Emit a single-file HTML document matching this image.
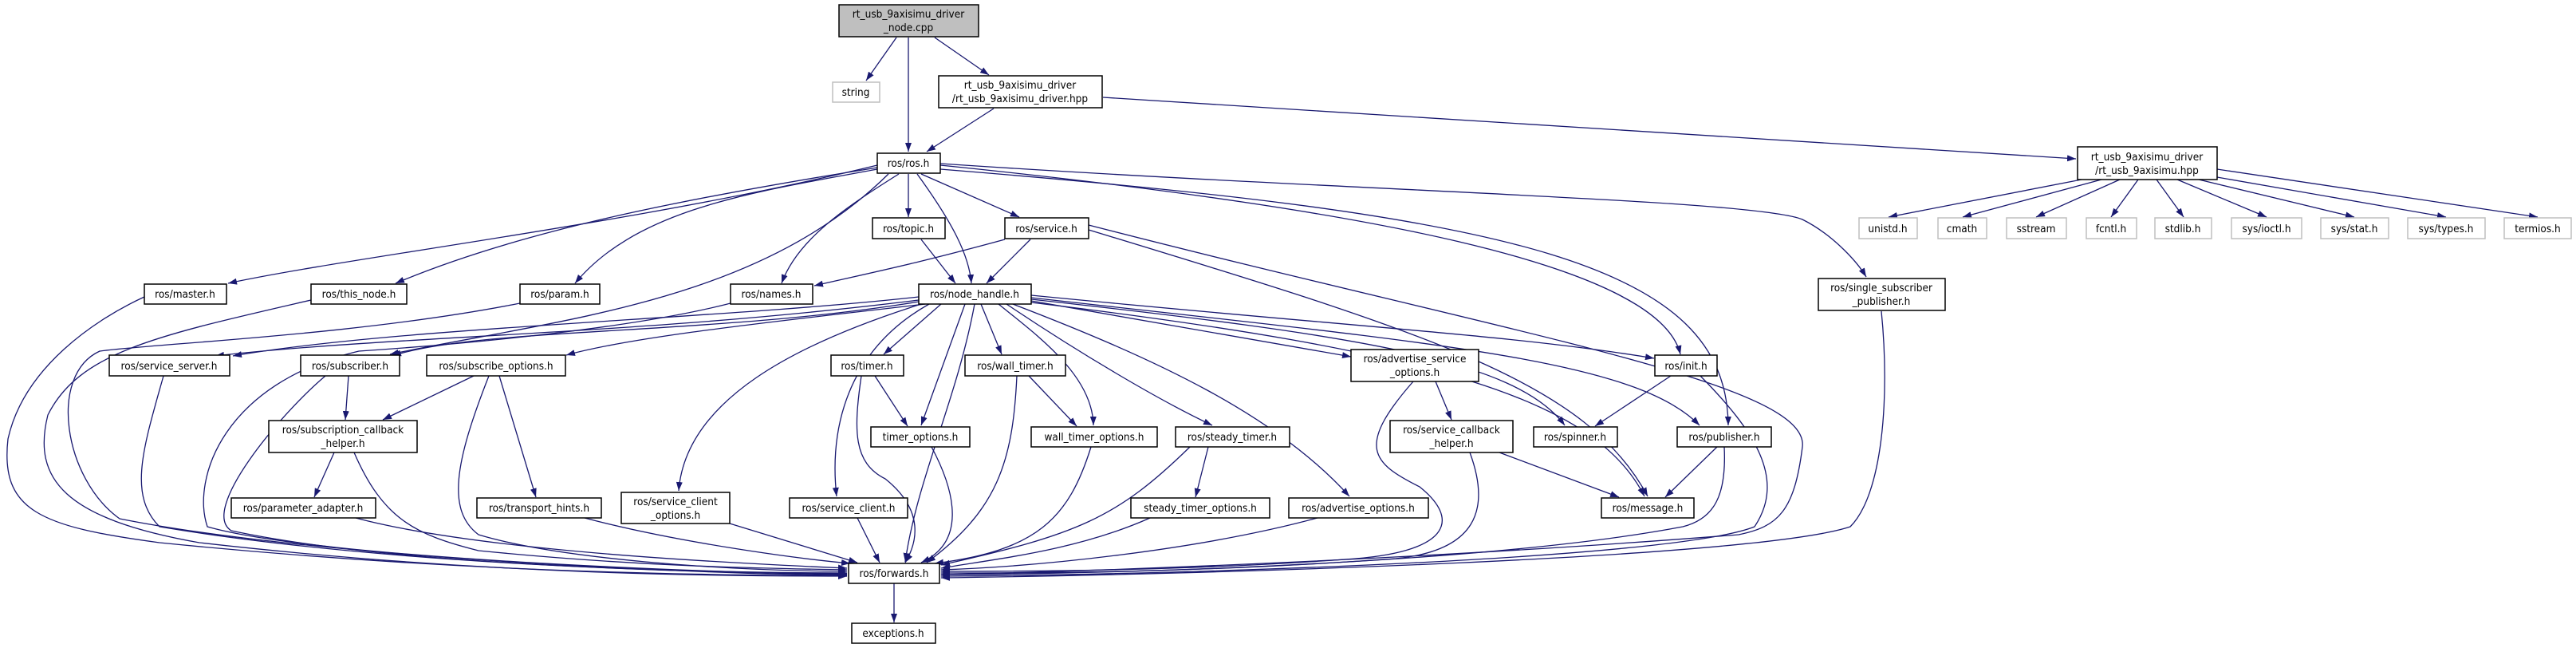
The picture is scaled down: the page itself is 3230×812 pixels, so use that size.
<!DOCTYPE html>
<html><head><meta charset="utf-8"><style>
html,body{margin:0;padding:0;background:#fff;}
svg{display:block;}
text{font-family:"DejaVu Sans Condensed","DejaVu Sans","Liberation Sans",sans-serif;font-size:13.5px;fill:#000;text-anchor:middle;}
.n{fill:#fff;stroke:#000;stroke-width:1.5;}
.g{fill:#fff;stroke:#bfbfbf;stroke-width:1.5;}
.r{fill:#bfbfbf;stroke:#000;stroke-width:1.5;}
.e{fill:none;stroke:#191970;stroke-width:1.3;marker-end:url(#a);}
</style></head><body>
<svg width="3230" height="812" viewBox="0 0 3230 812" xmlns="http://www.w3.org/2000/svg">
<defs><marker id="a" markerUnits="userSpaceOnUse" markerWidth="11" markerHeight="8" refX="11" refY="4" orient="auto"><path d="M0,0 L11,4 L0,8 z" fill="#191970"/></marker></defs>
<g>
<path class="e" d="M1124,47 L1086,101"/>
<path class="e" d="M1139,47 L1139,190"/>
<path class="e" d="M1172,47 L1240,94"/>
<path class="e" d="M1246,136 L1162,190"/>
<path class="e" d="M1383,122 L2603,199"/>
<path class="e" d="M2610,225 L2368,272"/>
<path class="e" d="M2635,225 L2461,272"/>
<path class="e" d="M2658,225 L2553,272"/>
<path class="e" d="M2681,225 L2647,272"/>
<path class="e" d="M2704,225 L2738,272"/>
<path class="e" d="M2730,225 L2842,272"/>
<path class="e" d="M2757,225 L2952,272"/>
<path class="e" d="M2780,222 L3067,272"/>
<path class="e" d="M2780,212 L3182,272"/>
<path class="e" d="M1100,207 C800,280 450,320 286,355"/>
<path class="e" d="M1100,210 C850,250 650,290 496,355"/>
<path class="e" d="M1100,212 C950,240 800,260 721,355"/>
<path class="e" d="M1127,218 C1060,260 1000,300 980,355"/>
<path class="e" d="M1114,218 C950,380 700,400 489,444"/>
<path class="e" d="M1139,218 L1139,272"/>
<path class="e" d="M1155,218 L1278,272"/>
<path class="e" d="M1150,218 C1195,280 1215,320 1218,355"/>
<path class="e" d="M1155,300 L1198,355"/>
<path class="e" d="M1292,300 L1237,355"/>
<path class="e" d="M1260,300 C1150,330 1100,340 1021,358"/>
<path class="e" d="M1179,207 C1700,260 2080,330 2107,444"/>
<path class="e" d="M1179,212 C1900,270 2165,330 2167,533"/>
<path class="e" d="M1179,205 C1700,240 2200,250 2260,275 C2300,295 2330,330 2340,347"/>
<path class="e" d="M1365,282 C1900,420 2270,480 2260,560 C2250,640 2230,660 2180,670 C1800,700 1400,715 1180,720"/>
<path class="e" d="M1365,288 C1800,420 1990,480 2066,622"/>
<path class="e" d="M2359,390 C2370,500 2360,620 2320,660 C2200,700 1500,720 1180,724"/>
<path class="e" d="M1152,372 C900,400 500,410 292,446"/>
<path class="e" d="M1152,376 C800,420 500,420 270,446"/>
<path class="e" d="M1152,378 C900,420 600,410 492,446"/>
<path class="e" d="M1160,381 C1000,400 800,420 710,445"/>
<path class="e" d="M1180,381 L1108,444"/>
<path class="e" d="M1210,381 L1155,533"/>
<path class="e" d="M1230,381 L1256,444"/>
<path class="e" d="M1252,381 C1300,420 1370,470 1371,533"/>
<path class="e" d="M1262,381 C1350,440 1450,500 1520,533"/>
<path class="e" d="M1270,381 C1450,450 1600,520 1692,622"/>
<path class="e" d="M1165,381 C1060,440 1040,540 1049,622"/>
<path class="e" d="M1155,381 C1000,430 860,500 851,615"/>
<path class="e" d="M1293,377 L1694,447"/>
<path class="e" d="M1293,370 C1700,410 1900,420 2074,449"/>
<path class="e" d="M1293,375 C1700,420 1900,450 1962,533"/>
<path class="e" d="M1293,379 C1800,440 2000,500 2062,622"/>
<path class="e" d="M1293,373 C1800,430 2050,450 2131,533"/>
<path class="e" d="M1222,381 C1200,500 1150,600 1135,704"/>
<path class="e" d="M181,372 C120,400 30,460 10,550 C0,640 50,660 200,680 C600,720 900,720 1062,722"/>
<path class="e" d="M390,376 C200,420 100,440 60,520 C40,600 80,650 250,680 C600,720 900,722 1062,722"/>
<path class="e" d="M652,380 C450,420 200,430 125,440 C60,470 80,600 150,650 C400,700 900,720 1062,721"/>
<path class="e" d="M916,380 C800,410 600,430 450,440 C280,480 240,600 260,660 C400,700 900,718 1062,720"/>
<path class="e" d="M205,471 C180,560 160,620 200,660 C500,710 900,718 1062,719"/>
<path class="e" d="M408,471 C350,520 250,640 290,665 C500,710 900,718 1062,718"/>
<path class="e" d="M437,471 L433,526"/>
<path class="e" d="M594,471 L480,526"/>
<path class="e" d="M626,471 L672,623"/>
<path class="e" d="M613,471 C570,580 560,640 600,670 C700,700 900,715 1062,716"/>
<path class="e" d="M419,567 L394,623"/>
<path class="e" d="M444,567 C480,650 520,670 600,690 C800,710 950,712 1062,714"/>
<path class="e" d="M446,649 C600,690 900,705 1062,712"/>
<path class="e" d="M733,649 C850,680 1000,700 1066,706"/>
<path class="e" d="M915,656 L1075,705"/>
<path class="e" d="M1075,649 L1103,705"/>
<path class="e" d="M1097,471 L1138,534"/>
<path class="e" d="M1080,471 C1070,540 1070,580 1110,600 C1160,640 1150,680 1135,705"/>
<path class="e" d="M1168,560 C1200,620 1210,680 1155,705"/>
<path class="e" d="M1290,471 L1350,534"/>
<path class="e" d="M1275,471 C1270,580 1250,640 1162,705"/>
<path class="e" d="M1368,560 C1340,650 1300,690 1172,706"/>
<path class="e" d="M1515,560 L1499,623"/>
<path class="e" d="M1492,560 C1400,650 1350,670 1180,708"/>
<path class="e" d="M1442,649 C1350,690 1250,700 1180,712"/>
<path class="e" d="M1652,649 C1500,690 1300,710 1180,714"/>
<path class="e" d="M1800,478 L1820,526"/>
<path class="e" d="M1772,478 C1700,560 1720,580 1780,610 C1830,650 1820,690 1700,700 C1500,715 1300,716 1180,716"/>
<path class="e" d="M1880,567 L2030,623"/>
<path class="e" d="M1843,567 C1870,640 1850,690 1750,700 C1500,718 1300,718 1180,718"/>
<path class="e" d="M2095,471 L2000,534"/>
<path class="e" d="M2132,471 C2200,540 2240,600 2200,660 C2100,700 1500,720 1180,722"/>
<path class="e" d="M2153,560 L2088,623"/>
<path class="e" d="M2162,560 C2165,620 2150,650 2110,660 C1900,700 1500,718 1180,720"/>
<path class="e" d="M1121,731 L1121,780"/>
</g>
<g>
<rect class="r" x="1052" y="6" width="175" height="40"/><text x="1139" y="22">rt_usb_9axisimu_driver</text><text x="1139" y="39">_node.cpp</text>
<rect class="g" x="1044" y="103" width="59" height="25"/><text x="1073" y="120">string</text>
<rect class="n" x="1177" y="95" width="205" height="40"/><text x="1279" y="111">rt_usb_9axisimu_driver</text><text x="1279" y="128">/rt_usb_9axisimu_driver.hpp</text>
<rect class="n" x="1100" y="192" width="79" height="25"/><text x="1139" y="209">ros/ros.h</text>
<rect class="n" x="2605" y="184" width="175" height="41"/><text x="2692" y="201">rt_usb_9axisimu_driver</text><text x="2692" y="218">/rt_usb_9axisimu.hpp</text>
<rect class="g" x="2331" y="273" width="73" height="26"/><text x="2367" y="291">unistd.h</text>
<rect class="g" x="2430" y="273" width="61" height="26"/><text x="2460" y="291">cmath</text>
<rect class="g" x="2516" y="273" width="75" height="26"/><text x="2553" y="291">sstream</text>
<rect class="g" x="2616" y="273" width="63" height="26"/><text x="2647" y="291">fcntl.h</text>
<rect class="g" x="2702" y="273" width="71" height="26"/><text x="2737" y="291">stdlib.h</text>
<rect class="g" x="2798" y="273" width="88" height="26"/><text x="2842" y="291">sys/ioctl.h</text>
<rect class="g" x="2910" y="273" width="85" height="26"/><text x="2952" y="291">sys/stat.h</text>
<rect class="g" x="3019" y="273" width="97" height="26"/><text x="3067" y="291">sys/types.h</text>
<rect class="g" x="3140" y="273" width="84" height="26"/><text x="3182" y="291">termios.h</text>
<rect class="n" x="1094" y="273" width="91" height="26"/><text x="1139" y="291">ros/topic.h</text>
<rect class="n" x="1260" y="273" width="105" height="26"/><text x="1312" y="291">ros/service.h</text>
<rect class="n" x="181" y="356" width="103" height="25"/><text x="232" y="373">ros/master.h</text>
<rect class="n" x="390" y="356" width="120" height="25"/><text x="450" y="373">ros/this_node.h</text>
<rect class="n" x="652" y="356" width="100" height="25"/><text x="702" y="373">ros/param.h</text>
<rect class="n" x="916" y="356" width="103" height="25"/><text x="967" y="373">ros/names.h</text>
<rect class="n" x="1152" y="356" width="141" height="25"/><text x="1222" y="373">ros/node_handle.h</text>
<rect class="n" x="2280" y="349" width="159" height="40"/><text x="2359" y="365">ros/single_subscriber</text><text x="2359" y="382">_publisher.h</text>
<rect class="n" x="137" y="445" width="151" height="26"/><text x="212" y="463">ros/service_server.h</text>
<rect class="n" x="377" y="445" width="124" height="26"/><text x="439" y="463">ros/subscriber.h</text>
<rect class="n" x="535" y="445" width="174" height="26"/><text x="622" y="463">ros/subscribe_options.h</text>
<rect class="n" x="1042" y="445" width="91" height="26"/><text x="1087" y="463">ros/timer.h</text>
<rect class="n" x="1210" y="445" width="126" height="26"/><text x="1273" y="463">ros/wall_timer.h</text>
<rect class="n" x="2075" y="445" width="78" height="26"/><text x="2114" y="463">ros/init.h</text>
<rect class="n" x="1694" y="438" width="160" height="40"/><text x="1774" y="454">ros/advertise_service</text><text x="1774" y="471">_options.h</text>
<rect class="n" x="337" y="527" width="186" height="40"/><text x="430" y="543">ros/subscription_callback</text><text x="430" y="560">_helper.h</text>
<rect class="n" x="1743" y="527" width="154" height="40"/><text x="1820" y="543">ros/service_callback</text><text x="1820" y="560">_helper.h</text>
<rect class="n" x="1092" y="535" width="124" height="25"/><text x="1154" y="552">timer_options.h</text>
<rect class="n" x="1293" y="535" width="158" height="25"/><text x="1372" y="552">wall_timer_options.h</text>
<rect class="n" x="1474" y="535" width="143" height="25"/><text x="1545" y="552">ros/steady_timer.h</text>
<rect class="n" x="1923" y="535" width="105" height="25"/><text x="1975" y="552">ros/spinner.h</text>
<rect class="n" x="2103" y="535" width="118" height="25"/><text x="2162" y="552">ros/publisher.h</text>
<rect class="n" x="290" y="624" width="181" height="25"/><text x="380" y="641">ros/parameter_adapter.h</text>
<rect class="n" x="598" y="624" width="156" height="25"/><text x="676" y="641">ros/transport_hints.h</text>
<rect class="n" x="779" y="617" width="136" height="39"/><text x="847" y="633">ros/service_client</text><text x="847" y="650">_options.h</text>
<rect class="n" x="990" y="624" width="148" height="25"/><text x="1064" y="641">ros/service_client.h</text>
<rect class="n" x="1418" y="624" width="174" height="25"/><text x="1505" y="641">steady_timer_options.h</text>
<rect class="n" x="1616" y="624" width="175" height="25"/><text x="1703" y="641">ros/advertise_options.h</text>
<rect class="n" x="2008" y="624" width="116" height="25"/><text x="2066" y="641">ros/message.h</text>
<rect class="n" x="1064" y="706" width="114" height="25"/><text x="1121" y="723">ros/forwards.h</text>
<rect class="n" x="1068" y="781" width="105" height="25"/><text x="1120" y="798">exceptions.h</text>
</g>
</svg>
</body></html>
